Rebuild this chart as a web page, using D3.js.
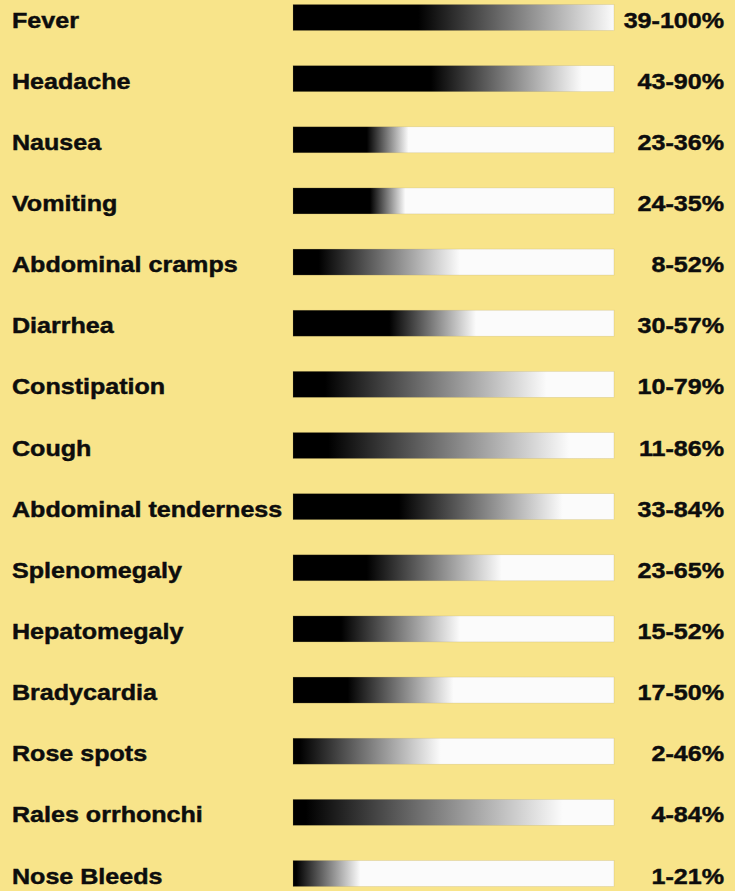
<!DOCTYPE html>
<html>
<head>
<meta charset="utf-8">
<script src="https://cdn.jsdelivr.net/npm/d3@7"></script>
<style>
  html, body { margin: 0; padding: 0; background: #f8e48a; }
  svg { display: block; }
</style>
</head>
<body>
<script>
'use strict';

// symptom names, low and high ends of the reported range (%)
const symptoms = ["Fever", "Headache", "Nausea", "Vomiting", "Abdominal cramps", "Diarrhea",
  "Constipation", "Cough", "Abdominal tenderness", "Splenomegaly", "Hepatomegaly",
  "Bradycardia", "Rose spots", "Rales orrhonchi", "Nose Bleeds"];
const lowPct = [39, 43, 23, 24, 8, 30, 10, 11, 33, 23, 15, 17, 2, 4, 1];
const highPct = [100, 90, 36, 35, 52, 57, 79, 86, 84, 65, 52, 50, 46, 84, 21];

(function() {
  const width = 735, height = 891;
  const barH = 26;
  const stretch = 1.14; // the original type is a bit wider than Arial

  let svg = d3.select('body')
    .append('svg')
    .attr('width', width)
    .attr('height', height);

  svg.append('rect')
    .attr('width', width)
    .attr('height', height)
    .attr('fill', '#f8e48a');

  let rows = symptoms.map((s, i) => ({ name: s, lo: lowPct[i], hi: highPct[i], id: i }));

  let yScale = d3.scalePoint()
    .domain(symptoms)
    .range([17.5, 873.5]);

  let xScale = d3.scaleLinear()
    .domain([0, 100])
    .range([293, 614]);

  // one gradient per bar: black up to the low value, white from the high value
  let defs = svg.append('defs');
  rows.forEach((d) => {
    let g = defs.append('linearGradient')
      .attr('id', 'grad' + d.id)
      .attr('x1', 0).attr('x2', 1).attr('y1', 0).attr('y2', 0);
    g.append('stop').attr('offset', d.lo / 100).attr('stop-color', '#000');
    g.append('stop').attr('offset', d.hi / 100).attr('stop-color', '#fbfbfb');
  });

  svg.selectAll('.bar')
    .data(rows)
    .enter()
    .append('rect')
      .attr('class', 'bar')
      .attr('x', xScale(0))
      .attr('y', (d) => yScale(d.name) - barH / 2)
      .attr('width', xScale(100) - xScale(0))
      .attr('height', barH)
      .attr('fill', (d) => 'url(#grad' + d.id + ')')
      .attr('stroke', '#a8985a')
      .attr('stroke-opacity', 0.35)
      .attr('stroke-width', 0.6);

  function label(sel, x, anchor) {
    sel.attr('transform', (d) => 'translate(' + x + ',' + (yScale(d.name) + 10) + ') scale(' + stretch + ',1)')
      .attr('text-anchor', anchor)
      .style('font-family', '"Liberation Sans", Arial, sans-serif')
      .style('font-weight', 'bold')
      .style('font-size', '22px')
      .attr('fill', '#0d0d0d')
      .attr('stroke', '#0d0d0d')
      .attr('stroke-width', 0.45);
  }

  // symptom names
  svg.selectAll('.name')
    .data(rows)
    .enter()
    .append('text')
      .attr('class', 'name')
      .text((d) => d.name)
      .call(label, 12, 'start');

  // percentage ranges
  svg.selectAll('.pct')
    .data(rows)
    .enter()
    .append('text')
      .attr('class', 'pct')
      .text((d) => d.lo + '-' + d.hi + '%')
      .call(label, 724, 'end');
})();
</script>
</body>
</html>
